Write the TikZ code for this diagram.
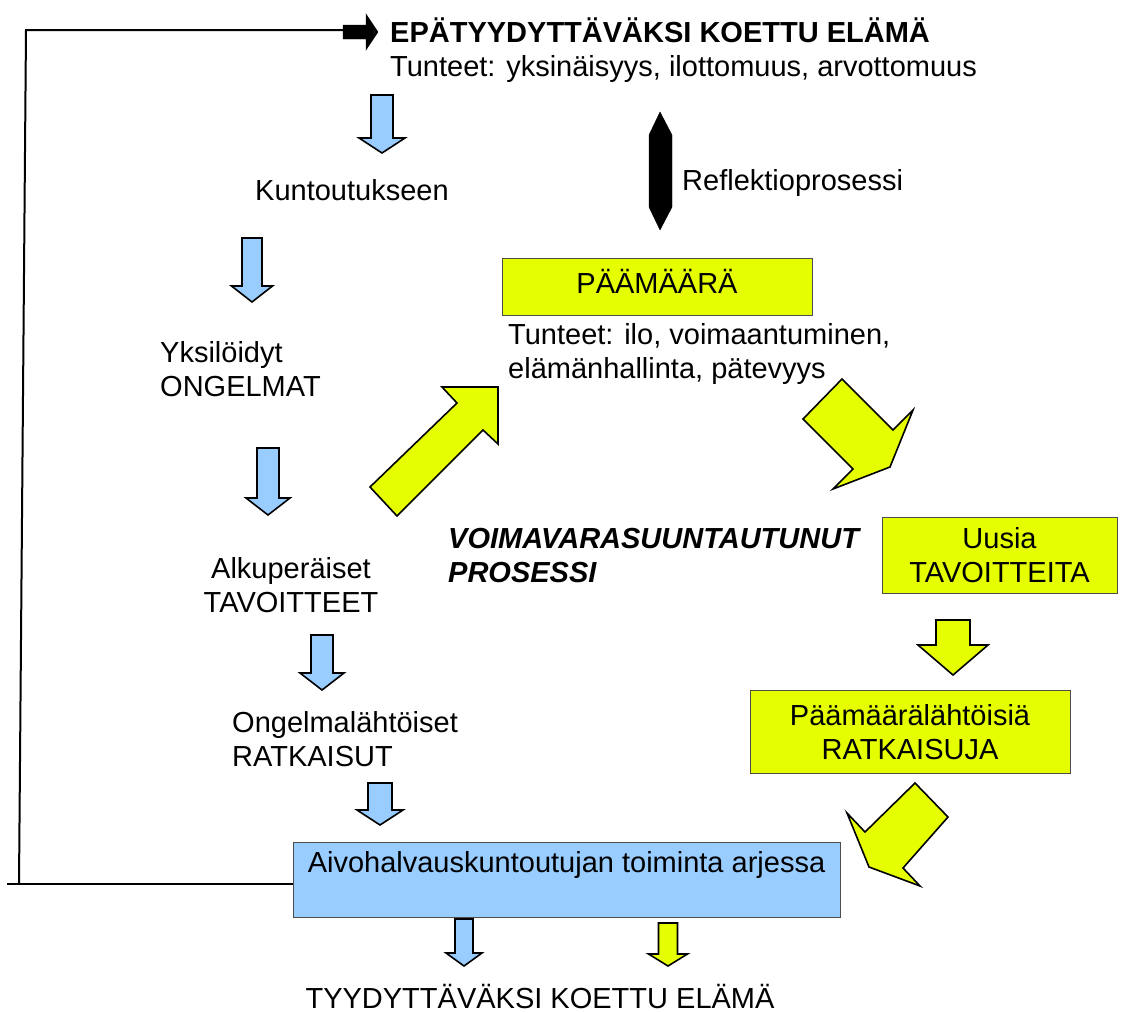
\documentclass[tikz,border=0pt]{standalone}
\usepackage{fontspec}
\setmainfont{Liberation Sans}
\usepackage{xcolor}
\usepackage{tikz}
\usetikzlibrary{arrows.meta,positioning,calc}
\definecolor{kblue}{HTML}{99CCFF}
\definecolor{kyellow}{HTML}{E6FF00}
% block arrow pointing down: centre x, top, neck, tip, half body, half head, style
\newcommand{\downblock}[7]{\draw[#7] ({#1-#5},#2) -- ({#1+#5},#2) -- ({#1+#5},#3) -- ({#1+#6},#3) -- (#1,#4) -- ({#1-#6},#3) -- ({#1-#5},#3) -- cycle;}

\begin{document}
\begin{tikzpicture}[x=1pt,y=-1pt,
  lbl/.style={font=\fontsize{29}{34}\selectfont,inner sep=0pt,text height=21pt,text depth=0pt,align=left,anchor=north west},
  twoline/.style={text height=55pt},
  bluebox/.style={lbl,anchor=center,draw=black!70,line width=1pt,fill=kblue,align=center},
  yellowbox/.style={lbl,anchor=center,draw=black!70,line width=1pt,fill=kyellow,align=center},
  bluearr/.style={draw=black,line width=1.6pt,fill=kblue,line join=miter},
  yellowarr/.style={draw=black,line width=1.6pt,fill=kyellow,line join=miter},
  feedback/.style={draw=black,line width=2pt}]
  \useasboundingbox (0,0) rectangle (1121,1012);
  % left column
  \node[lbl,twoline] (unsat) at (390,21) {\textbf{EPÄTYYDYTTÄVÄKSI KOETTU ELÄMÄ}\\Tunteet: yksinäisyys, ilottomuus, arvottomuus};
  \node[lbl] (rehab) at (255,179) {Kuntoutukseen};
  \node[lbl,twoline] (probs) at (160,341) {Yksilöidyt\\ONGELMAT};
  \node[lbl,twoline,anchor=north,align=center] (goals) at (291,557) {Alkuperäiset\\TAVOITTEET};
  \node[lbl,twoline] (psol) at (232,711) {Ongelmalähtöiset\\RATKAISUT};
  \node[bluebox,minimum width=547pt,minimum height=75pt,text depth=35pt] (daily) at (566.5,879.5) {Aivohalvauskuntoutujan toiminta arjessa};
  \node[lbl,anchor=north,align=center] (sat) at (540,987) {TYYDYTTÄVÄKSI KOETTU ELÄMÄ};
  \downblock{382}{95}{138}{153}{11}{23}{bluearr}
  \downblock{252}{238}{286}{302}{10}{20.5}{bluearr}
  \downblock{268}{448}{498}{515}{11}{22}{bluearr}
  \downblock{322}{635}{673}{690}{11}{22}{bluearr}
  \downblock{380}{783}{810}{825}{12}{23}{bluearr}
  \downblock{464}{919}{953}{966}{9}{18}{bluearr}
  \downblock{668}{923}{954}{966}{9.5}{19.5}{yellowarr}
  % right column
  \node[lbl] (refl) at (682,169) {Reflektioprosessi};
  \draw[fill=black] (660,112) -- (672,135) -- (672,207) -- (660,230) -- (649,207) -- (649,135) -- cycle;
  \node[yellowbox,minimum width=310pt,minimum height=57pt,text depth=8pt] (aim) at (657,286.5) {PÄÄMÄÄRÄ};
  \node[lbl,twoline] (feel) at (508,323) {Tunteet: ilo, voimaantuminen,\\elämänhallinta, pätevyys};
  \node[lbl,twoline,font=\fontsize{29}{34}\selectfont\bfseries\itshape] (proc) at (448,527) {VOIMAVARASUUNTAUTUNUT\\PROSESSI};
  \node[yellowbox,twoline,minimum width=235pt,minimum height=76pt] (newg) at (999.5,555) {Uusia\\TAVOITTEITA};
  \node[yellowbox,twoline,minimum width=320pt,minimum height=83pt] (asol) at (910,731.5) {Päämäärälähtöisiä\\RATKAISUJA};
  \draw[yellowarr] (370,487) -- (457,403) -- (442,387) -- (498,387) -- (498,444) -- (483,430) -- (397,516) -- cycle;
  \draw[yellowarr] (842,379) -- (893,430) -- (913,410) -- (890,467) -- (833,489) -- (853,469) -- (803,419) -- cycle;
  \downblock{953}{620}{645}{675}{17}{35}{yellowarr}
  \draw[yellowarr] (915,783) -- (948,817) -- (903,868) -- (920,886) -- (869,867) -- (847,813) -- (865,832) -- cycle;
  % feedback loop
  \coordinate (fbend) at (7,884);
  \coordinate (fbfoot) at (19,884);
  \coordinate (fbtop) at (26,30);
  \coordinate (fbarr) at (343,30);
  \draw[feedback] (fbend) -- (fbend -| daily.west);
  \draw[feedback] (fbfoot) -- (fbtop) -- (fbarr);
  \draw[fill=black] (343,25) -- (366,25) -- (366,14) -- (378,32) -- (366,50) -- (366,39) -- (343,39) -- cycle;
\end{tikzpicture}
\end{document}
